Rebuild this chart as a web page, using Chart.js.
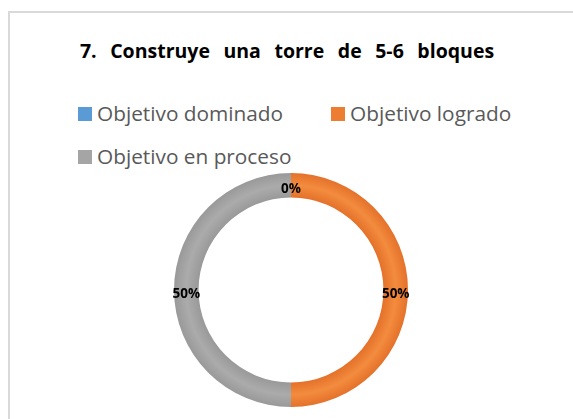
<!DOCTYPE html>
<html>
<head>
<meta charset="utf-8">
<script src="https://cdn.jsdelivr.net/npm/chart.js@4"></script>
<style>
    html, body { margin: 0; padding: 0; background: #fff; overflow: hidden; }
    body { width: 573px; height: 419px; position: relative; font-family: 'Open Sans', sans-serif; }
    .frame { position: absolute; left: 8px; top: 11px; width: 620px; height: 520px; border: 2px solid #d9d9d9; }
    .title { position: absolute; left: 0; top: 41px; width: 574px; text-align: center;
             font-weight: 700; font-size: 19.5px; line-height: 19px; color: #000; word-spacing: 8.5px; white-space: nowrap; }
    .legend { position: absolute; left: 78px; top: 92px; width: 440px; display: flex; flex-wrap: wrap;
              column-gap: 48px; font-size: 20.8px; line-height: 43px; color: #595959; }
    .legend span { white-space: nowrap; }
    .legend i { display: inline-block; width: 14px; height: 14px; margin-right: 5px; }
    #chart { position: absolute; left: 0; top: 0; }
</style>
</head>
<body>
<div class="frame"></div>
<div class="title" id="title"></div>
<div class="legend" id="legend"></div>
<canvas id="chart" width="573" height="419"></canvas>
<script>
/* ==========================================
   DONUT - CONSTRUYE UNA TORRE
   ========================================== */

const chartTitle = '7. Construye una torre de 5-6 bloques';
const categories = ['Objetivo dominado', 'Objetivo logrado', 'Objetivo en proceso'];
const values = [0, 50, 50];
const colors = ['#5B9BD5', '#ED7D31', '#A5A5A5'];
// edge / middle shades for the bevel look of the ring
const edgeColors = ['#4f8cc4', '#e4712a', '#999999'];
const midColors = ['#6aa6dc', '#f38c3e', '#ababab'];

function ringGradient(context, i) {
    const chart = context.chart;
    const meta = chart.getDatasetMeta(0);
    const arc = meta.data[0];
    if (!arc || !arc.outerRadius) return colors[i];
    const { x, y, innerRadius, outerRadius } = arc;
    const g = chart.ctx.createRadialGradient(x, y, innerRadius, x, y, outerRadius);
    g.addColorStop(0, edgeColors[i]);
    g.addColorStop(0.5, midColors[i]);
    g.addColorStop(1, edgeColors[i]);
    return g;
}

// Percent labels sitting on the middle of the ring
const ringLabels = {
    id: 'ringLabels',
    afterDatasetsDraw(chart) {
        const ctx = chart.ctx;
        const data = chart.data.datasets[0].data;
        const total = data.reduce((a, b) => a + b, 0);
        const meta = chart.getDatasetMeta(0);

        ctx.save();
        ctx.font = 'bold 13.5px "Open Sans"';
        ctx.fillStyle = '#000';
        ctx.textAlign = 'center';
        ctx.textBaseline = 'middle';
        meta.data.forEach((arc, i) => {
            const p = arc.getProps(['x', 'y', 'startAngle', 'endAngle', 'innerRadius', 'outerRadius'], true);
            const mid = (p.startAngle + p.endAngle) / 2;
            const r = (p.innerRadius + p.outerRadius) / 2;
            const pct = Math.round(data[i] / total * 100) + '%';
            ctx.fillText(pct, p.x + Math.cos(mid) * r, p.y + Math.sin(mid) * r + 4);
        });
        ctx.restore();
    }
};

function buildLegend() {
    document.getElementById('title').textContent = chartTitle;
    const container = document.getElementById('legend');
    container.innerHTML = categories.map((cat, i) =>
        `<span><i style="background:${colors[i]}"></i>${cat}</span>`
    ).join('');
}

function initChart() {
    buildLegend();

    new Chart(document.getElementById('chart'), {
        type: 'doughnut',
        data: {
            labels: categories,
            datasets: [{
                data: values,
                backgroundColor: (context) => ringGradient(context, context.dataIndex),
                borderWidth: 0
            }]
        },
        options: {
            responsive: false,
            animation: false,
            cutout: '79%',
            layout: {
                padding: { left: 174, right: 165, top: 173, bottom: 12 }
            },
            plugins: {
                legend: { display: false },
                title: { display: false },
                tooltip: { enabled: false }
            }
        },
        plugins: [ringLabels]
    });
}

initChart();
</script>
</body>
</html>
